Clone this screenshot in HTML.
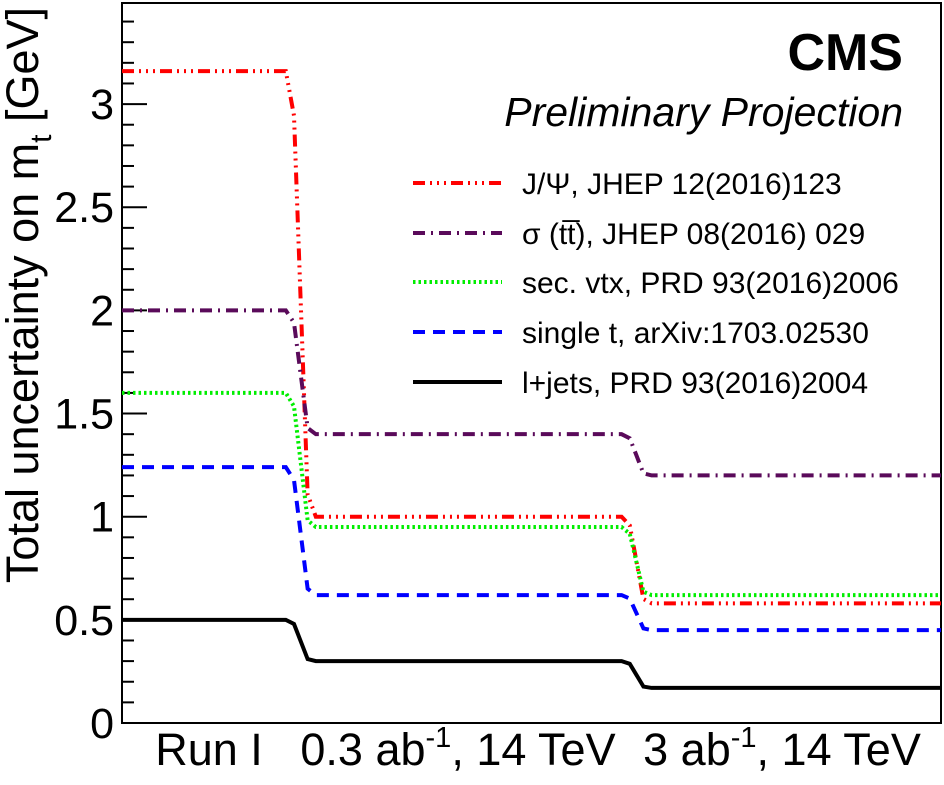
<!DOCTYPE html>
<html><head><meta charset="utf-8"><style>
body{margin:0;background:#fff}
svg text{font-family:"Liberation Sans",sans-serif;fill:#000}
</style></head><body>
<svg id="chart" width="944" height="780" viewBox="0 0 944 780" xmlns="http://www.w3.org/2000/svg">
<g id="axes"></g>
<g id="series"></g>
<text x="903" y="70" text-anchor="end" font-size="52" font-weight="bold">CMS</text>
<text x="903" y="126" text-anchor="end" font-size="41" font-style="italic">Preliminary Projection</text>
<text transform="translate(38,295) rotate(-90)" text-anchor="middle" font-size="45">Total uncertainty on m<tspan font-size="30" dy="13">t</tspan><tspan dy="-13"> [GeV]</tspan></text>
<text x="209" y="765" text-anchor="middle" font-size="45">Run I</text>
<text x="458" y="765" text-anchor="middle" font-size="45">0.3 ab<tspan font-size="29" dy="-18">-1</tspan><tspan dy="18">, 14 TeV</tspan></text>
<text x="782" y="765" text-anchor="middle" font-size="45">3 ab<tspan font-size="29" dy="-18">-1</tspan><tspan dy="18">, 14 TeV</tspan></text>
<g id="legend"></g>
</svg>
<script>
const categories = ["Run I", "0.3 ab-1, 14 TeV", "3 ab-1, 14 TeV"];
const seriesNames = ["J/\u03A8, JHEP 12(2016)123", "\u03C3 (tt\u0305), JHEP 08(2016) 029", "sec. vtx, PRD 93(2016)2006", "single t, arXiv:1703.02530", "l+jets, PRD 93(2016)2004"];
const jpsi = [3.16, 1.0, 0.58];
const xsec = [2.0, 1.4, 1.2];
const secvtx = [1.6, 0.95, 0.62];
const singlet = [1.24, 0.62, 0.45];
const ljets = [0.5, 0.3, 0.17];
const yTicks = [0, 0.5, 1, 1.5, 2, 2.5, 3];
const yTickLabels = ["0", "0.5", "1", "1.5", "2", "2.5", "3"];

const NS = "http://www.w3.org/2000/svg";
const L = 122, R = 941, T = 3, B = 723, YMAX = 3.49;
function ys(v){ return B - v / YMAX * (B - T); }
function xs(u){ return L + u / 3 * (R - L); }
function mk(tag, attrs, parent){ const e = document.createElementNS(NS, tag); for (const k in attrs) e.setAttribute(k, attrs[k]); parent.appendChild(e); return e; }

const axes = document.getElementById('axes');
const frame = mk('rect', {x:L, y:T, width:R-L, height:B-T, fill:'none', stroke:'#000', 'stroke-width':2}, axes);


for (let i = 0; i <= 34; i++) {
  const v = i / 10, major = i % 5 === 0;
  const t = mk('line', {x1:L, x2:L + (major ? 25 : 12), y1:ys(v), y2:ys(v), stroke:'#000', 'stroke-width':2}, axes);
  
  
}
yTicks.forEach((v, i) => {
  const tx = mk('text', {x:114, y:ys(v) + 15, 'text-anchor':'end', 'font-size':43}, axes);
  tx.textContent = yTickLabels[i];
  
  
});

const styles = [
  {c:'#ff0000', d:'12 5 2 5 2 5 2 5'},
  {c:'#5a0a5a', d:'12 6 2 6'},
  {c:'#00ee00', d:'2.5 3'},
  {c:'#0000ff', d:'12 8'},
  {c:'#000000', d:''}
];
const data = [jpsi, xsec, secvtx, singlet, ljets];
const names = ['series-jpsi', 'series-xsec', 'series-secvtx', 'series-singlet', 'series-ljets'];
const sg = document.getElementById('series');
data.forEach((vals, i) => {
  const pts = [
    [0, vals[0]], [0.6, vals[0]], [0.63, vals[0] - (vals[0]-vals[1])*0.1],
    [0.68, vals[1] + (vals[0]-vals[1])*0.05], [0.71, vals[1]],
    [1.83, vals[1]], [1.86, vals[1] - (vals[1]-vals[2])*0.1],
    [1.91, vals[2] + (vals[1]-vals[2])*0.05], [1.94, vals[2]], [3, vals[2]]
  ];
  const p = mk('polyline', {points: pts.map(q => xs(q[0]) + ',' + ys(q[1])).join(' '), fill:'none', stroke:styles[i].c, 'stroke-width':4, 'stroke-dasharray':styles[i].d}, sg);
  
  
});

const lg = document.getElementById('legend');
const rows = [183, 233, 282, 332, 382];
seriesNames.forEach((n, i) => {
  const ln = mk('line', {x1:413, x2:502, y1:rows[i], y2:rows[i], stroke:styles[i].c, 'stroke-width':4, 'stroke-dasharray':styles[i].d}, lg);
  
  
  const tx = mk('text', {x:522, y:rows[i] + 11, 'font-size':30}, lg);
  tx.textContent = n;
  
  
});
</script>
</body></html>
